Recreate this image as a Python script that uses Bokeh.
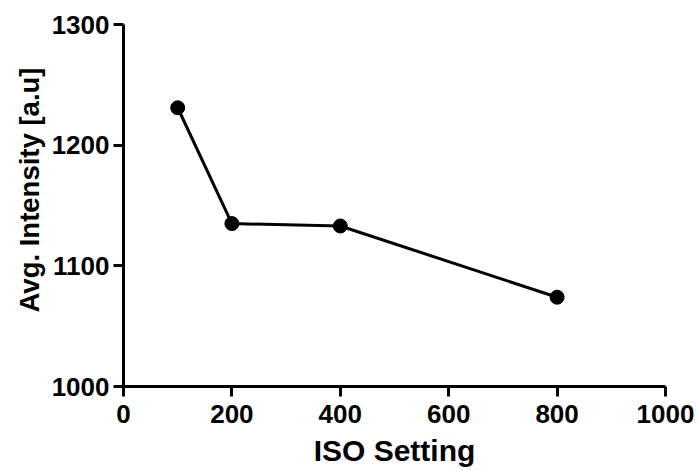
from bokeh.plotting import figure
from bokeh.models import Range1d, FixedTicker, Title
from bokeh.embed import file_html
from bokeh.resources import INLINE

iso = [100, 200, 400, 800]
intensity = [1231, 1135, 1133, 1074]
x_ticks = [0, 200, 400, 600, 800, 1000]
y_ticks = [1000, 1100, 1200, 1300]
x_title = "ISO Setting"
y_title = "Avg. Intensity [a.u]"

p = figure(width=698, height=471, output_backend="svg", toolbar_location=None,
           x_range=Range1d(0, 1000), y_range=Range1d(1000, 1300),
           min_border_left=123, min_border_right=33, min_border_top=24, min_border_bottom=85)
p.background_fill_color = "white"
p.border_fill_color = "white"
p.outline_line_color = None
p.xgrid.grid_line_color = None
p.ygrid.grid_line_color = None

p.line(iso, intensity, line_color="black", line_width=3)
p.scatter(iso, intensity, size=14, fill_color="black", line_color="black")

p.xaxis.ticker = FixedTicker(ticks=x_ticks)
p.yaxis.ticker = FixedTicker(ticks=y_ticks)
p.xaxis.axis_label = x_title

for ax in (p.xaxis, p.yaxis):
    ax.axis_line_width = 3
    ax.axis_line_color = "black"
    ax.major_tick_line_width = 3
    ax.major_tick_line_color = "black"
    ax.major_tick_out = 10
    ax.major_tick_in = 0
    ax.minor_tick_line_color = None
    ax.major_label_text_font = "Liberation Sans"
    ax.major_label_text_font_style = "bold"
    ax.major_label_text_font_size = "26px"
    ax.major_label_text_color = "black"
    ax.axis_label_text_font = "Liberation Sans"
    ax.axis_label_text_font_style = "bold"
    ax.axis_label_text_font_size = "30px"
    ax.axis_label_text_color = "black"

p.xaxis.major_label_standoff = 8
p.yaxis.major_label_standoff = 4
p.xaxis.axis_label_standoff = 8

ytitle = Title(text=y_title, align="left", offset=74,
               text_font="Liberation Sans", text_font_style="bold",
               text_font_size="27.5px", text_color="black", standoff=8)
p.add_layout(ytitle, "left")

open("out.html", "w").write(file_html(p, INLINE))
